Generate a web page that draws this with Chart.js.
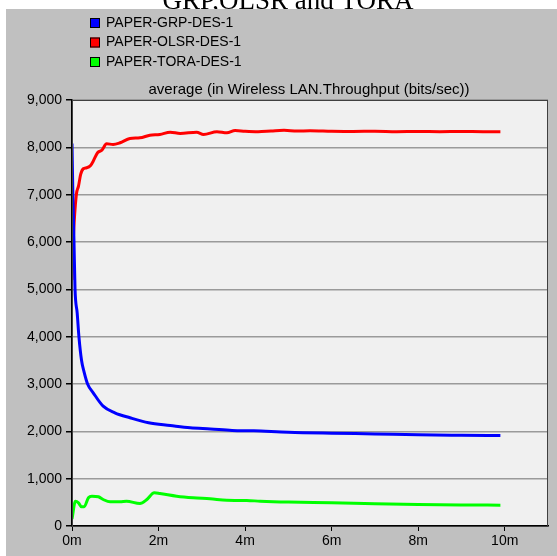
<!DOCTYPE html>
<html>
<head>
<meta charset="utf-8">
<script src="https://cdn.jsdelivr.net/npm/chart.js@4/dist/chart.umd.min.js"></script>
<style>
  html, body { margin: 0; padding: 0; background: #fff; }
  #wrap { width: 557px; height: 556px; }
</style>
</head>
<body>
<div id="wrap"><canvas id="tput"></canvas></div>
<script>
// series (time in minutes, throughput in bits/sec)
const grpTime = [0, 0.02, 0.045, 0.07, 0.12, 0.16, 0.22, 0.28, 0.36, 0.49, 0.72, 0.99, 1.34, 1.77, 2.27, 2.73, 3.2, 3.7, 4.2, 5, 6, 7, 8, 9, 9.9];
const grpValues = [8080, 7000, 6050, 5000, 4500, 4000, 3500, 3250, 3000, 2814, 2531, 2391, 2286, 2180, 2123, 2074, 2050, 2020, 2010, 1980, 1960, 1945, 1927, 1918, 1912];

const olsrTime = [0, 0.03, 0.1, 0.15, 0.2, 0.26, 0.34, 0.43, 0.49, 0.59, 0.69, 0.8, 0.95, 1.11, 1.34, 1.57, 1.8, 2.03, 2.27, 2.5, 2.88, 3.04, 3.35, 3.58, 3.77, 4.0, 4.3, 4.6, 4.9, 5.2, 5.5, 6, 6.5, 7, 7.5, 8, 8.5, 9, 9.5, 9.9];
const olsrValues = [5200, 6050, 7000, 7180, 7427, 7547, 7568, 7617, 7708, 7885, 7940, 8075, 8060, 8096, 8187, 8200, 8257, 8272, 8320, 8293, 8320, 8272, 8329, 8307, 8356, 8340, 8330, 8345, 8360, 8345, 8350, 8340, 8335, 8340, 8330, 8335, 8330, 8335, 8330, 8330];

const toraTime = [0, 0.08, 0.15, 0.22, 0.28, 0.38, 0.46, 0.61, 0.72, 0.88, 1.11, 1.26, 1.57, 1.73, 1.9, 2.03, 2.42, 2.8, 3.19, 3.58, 4.04, 4.35, 5, 6, 7, 8, 9, 9.9];
const toraValues = [150, 524, 490, 406, 406, 596, 630, 617, 560, 511, 511, 524, 475, 560, 701, 687, 630, 596, 575, 545, 539, 524, 505, 490, 470, 454, 445, 440];

const seriesNames = ['PAPER-GRP-DES-1', 'PAPER-OLSR-DES-1', 'PAPER-TORA-DES-1'];
const seriesColors = ['#0000ff', '#ff0000', '#00ff00'];
const xTicks = [0, 2, 4, 6, 8, 10];

const FONT = '"Liberation Sans", Arial, sans-serif';

function toPoints(times, values) {
  return times.map((t, i) => ({ x: t, y: values[i] }));
}

// gray frame, plot background, cut-off caption, legend and subtitle
const framePlugin = {
  id: 'frame',
  beforeDraw(chart) {
    const ctx = chart.ctx;
    const area = chart.chartArea;
    ctx.save();
    ctx.fillStyle = '#000';
    ctx.font = '27px "Liberation Serif", "Times New Roman", serif';
    ctx.textAlign = 'center';
    ctx.textBaseline = 'alphabetic';
    ctx.fillText('GRP,OLSR and TORA', 288, 9);
    ctx.fillStyle = '#c0c0c0';
    ctx.fillRect(6, 9, chart.width - 6, chart.height - 9);
    ctx.fillStyle = '#f0f0f0';
    ctx.fillRect(area.left, area.top, area.right - area.left, area.bottom - area.top);
    ctx.restore();
  },
  afterDraw(chart) {
    const ctx = chart.ctx;
    const area = chart.chartArea;
    ctx.save();
    // plot border
    ctx.strokeStyle = '#404040';
    ctx.lineWidth = 1;
    ctx.strokeRect(area.left + 0.5, area.top + 0.5, area.right - area.left - 1, area.bottom - area.top);

    // legend, one entry per line
    ctx.font = '14px ' + FONT;
    ctx.textBaseline = 'middle';
    ctx.textAlign = 'left';
    chart.data.datasets.forEach((ds, i) => {
      const y = 23 + i * 19.5;
      ctx.fillStyle = ds.borderColor;
      ctx.fillRect(90, y - 5, 10, 10);
      ctx.strokeStyle = '#000';
      ctx.strokeRect(90.5, y - 4.5, 9, 9);
      ctx.fillStyle = '#000';
      ctx.fillText(ds.label, 106, y);
    });

    // subtitle above the plot
    ctx.font = '15px ' + FONT;
    ctx.textAlign = 'center';
    ctx.fillText('average (in Wireless LAN.Throughput (bits/sec))', 309, 90);
    ctx.restore();
  }
};

const ctx = document.getElementById('tput').getContext('2d');
new Chart(ctx, {
  type: 'line',
  data: {
    datasets: [
      { label: seriesNames[0], data: toPoints(grpTime, grpValues), borderColor: seriesColors[0] },
      { label: seriesNames[1], data: toPoints(olsrTime, olsrValues), borderColor: seriesColors[1] },
      { label: seriesNames[2], data: toPoints(toraTime, toraValues), borderColor: seriesColors[2] }
    ]
  },
  options: {
    responsive: true,
    maintainAspectRatio: false,
    animation: false,
    layout: { padding: { left: 6, top: 100, right: 9, bottom: 0 } },
    elements: {
      point: { radius: 0 },
      line: { borderWidth: 3, cubicInterpolationMode: 'monotone', fill: false }
    },
    plugins: {
      legend: { display: false },
      title: { display: false },
      tooltip: { enabled: false }
    },
    scales: {
      x: {
        type: 'linear',
        min: 0,
        max: 11,
        afterFit(scale) { scale.height = 30; },
        afterBuildTicks(scale) { scale.ticks = xTicks.map(v => ({ value: v })); },
        border: { color: '#000', width: 1.5 },
        grid: { drawOnChartArea: false, drawTicks: true, tickLength: 5, color: '#000' },
        ticks: {
          color: '#000',
          padding: 2,
          maxRotation: 0,
          font: { family: FONT, size: 14 },
          callback: v => v + 'm'
        }
      },
      y: {
        min: 0,
        max: 9000,
        afterFit(scale) { scale.width = 66; },
        border: { color: '#000', width: 1.5 },
        grid: { color: '#9a9a9a', lineWidth: 1.5, tickColor: '#000', tickLength: 6 },
        ticks: {
          stepSize: 1000,
          color: '#000',
          padding: 4,
          font: { family: FONT, size: 14 },
          callback: v => v.toLocaleString('en-US')
        }
      }
    }
  },
  plugins: [framePlugin]
});
</script>
</body>
</html>
